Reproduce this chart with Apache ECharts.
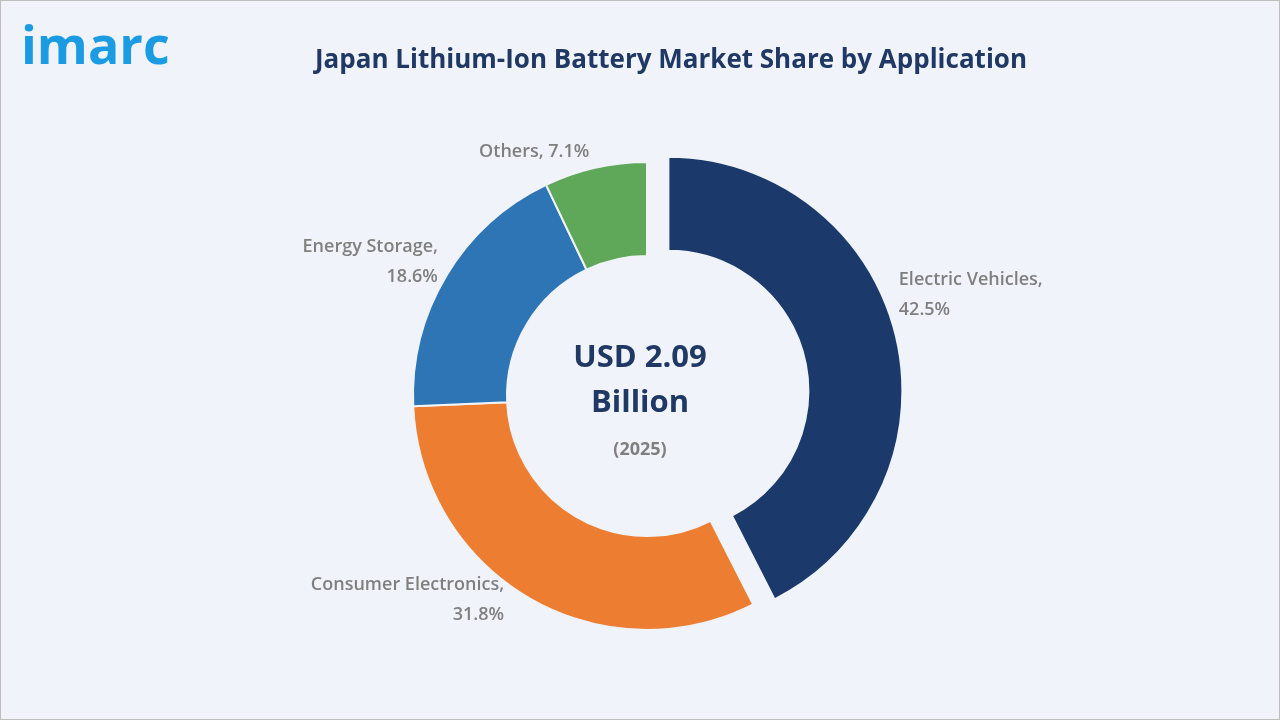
<!DOCTYPE html>
<html><head><meta charset="utf-8">
<script src="https://cdn.jsdelivr.net/npm/echarts@6/dist/echarts.min.js"></script>
<style>html,body{margin:0;padding:0;background:#f0f4fa}#c{width:1280px;height:720px;box-sizing:border-box;border:1px solid #bfbfbf}</style>
</head><body><div id="c"></div>
<script>
const categories = ["Electric Vehicles","Consumer Electronics","Energy Storage","Others"];
const shares = [42.5,31.8,18.6,7.1];
const colors = ["#1b3a6b","#ed7d31","#2e75b6","#5fa85a"];
const nudges = [[-6,-40],[-18,-2],[0,-12],[0,-12]];
const chart = echarts.init(document.getElementById('c'));
chart.setOption({
  backgroundColor:'#f0f4fa',
  graphic:[
    {type:'text',left:20,top:22,style:{text:'imarc',font:'bold 52px "Open Sans"',fill:'#1b9ce2'}},
    {type:'text',left:'center',top:342,style:{text:'USD 2.09',font:'bold 31px "Open Sans"',fill:'#1f3864',textAlign:'center'},x:12},
    {type:'text',left:'center',top:387,style:{text:'Billion',font:'bold 31px "Open Sans"',fill:'#1f3864',textAlign:'center'},x:12},
    {type:'text',left:'center',top:440,style:{text:'(2025)',font:'bold 18px "Open Sans"',fill:'#7f7f7f',textAlign:'center'},x:12}
  ],
  title:{text:'Japan Lithium-Ion Battery Market Share by Application',left:665,textAlign:'center',top:42,
    textStyle:{fontFamily:'Open Sans',fontSize:26,fontWeight:'bold',color:'#1f3864'}},
  series:[{
    type:'pie',center:[646,395],radius:[140,234],startAngle:90,
    selectedMode:'single',selectedOffset:22,
    avoidLabelOverlap:false,
    label:{show:true,position:'outside',
      formatter:p=>p.name==='Others'?p.name+', '+p.value.toFixed(1)+'%':p.name+',\n'+p.value.toFixed(1)+'%',
      fontFamily:'Open Sans',fontSize:18,fontWeight:600,color:'#7f7f7f',lineHeight:30},
    labelLine:{show:false,length:4,length2:0},
    labelLayout:p=>({dx:nudges[p.dataIndex][0],dy:nudges[p.dataIndex][1]}),
    itemStyle:{borderColor:'#f0f4fa',borderWidth:2},
    emphasis:{disabled:true},
    data:categories.map((n,i)=>({name:n,value:shares[i],selected:i===0,itemStyle:{color:colors[i]}}))
  }]
});
</script></body></html>
